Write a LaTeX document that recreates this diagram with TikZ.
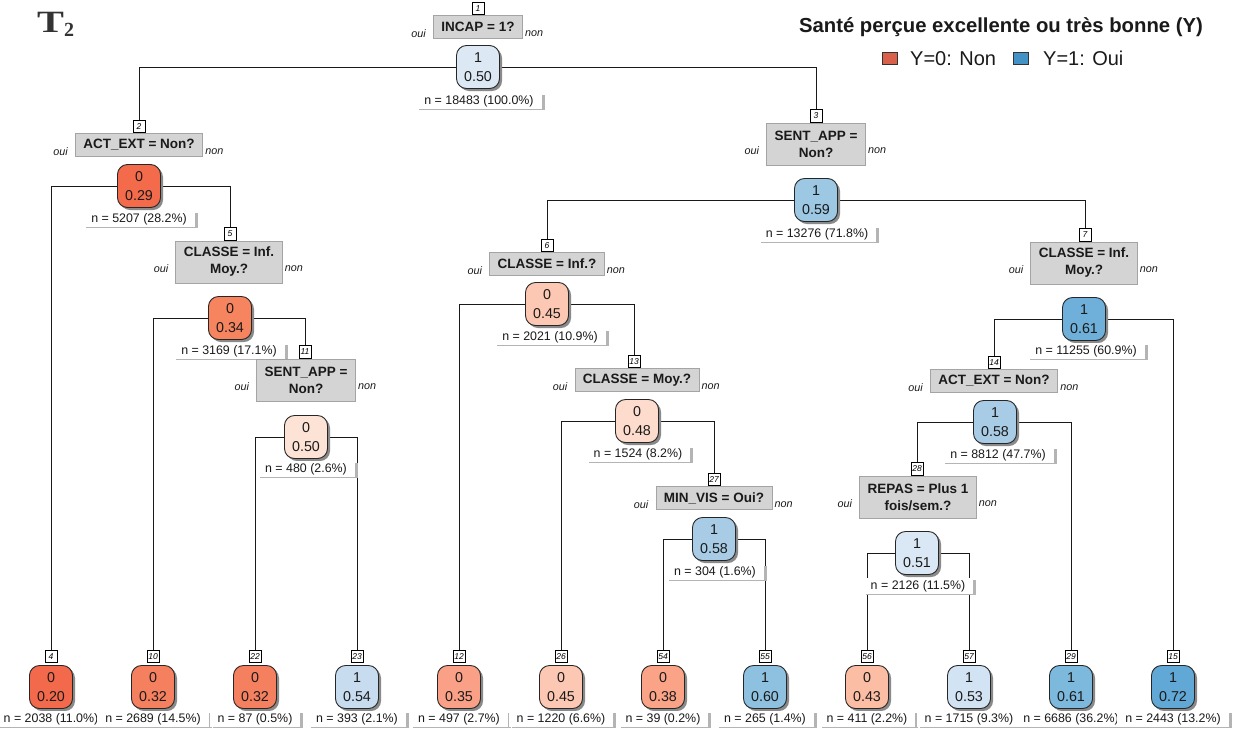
\documentclass[tikz,border=0pt]{standalone}
\usepackage{fontspec}
\setmainfont{Liberation Sans}
\newfontfamily\serifT{Liberation Serif}
\usetikzlibrary{shadows}
\pgfdeclarelayer{bg}
\pgfdeclarelayer{paper}
\pgfsetlayers{paper,bg,main}
\definecolor{txt}{HTML}{1A1A1A}
\definecolor{splitfill}{HTML}{D4D4D4}
\definecolor{splitborder}{HTML}{A4A4A4}
\definecolor{shadowc}{HTML}{8A8A8A}
\definecolor{labshadow}{HTML}{B4B4B4}
\definecolor{c020}{HTML}{F26A4B}
\definecolor{c029}{HTML}{F36B4B}
\definecolor{c032}{HTML}{F5805F}
\definecolor{c034}{HTML}{F6845F}
\definecolor{c035}{HTML}{F9A086}
\definecolor{c038}{HTML}{FAA387}
\definecolor{c043}{HTML}{FCBDA5}
\definecolor{c045}{HTML}{FDC8B3}
\definecolor{c048}{HTML}{FDDCCD}
\definecolor{c050r}{HTML}{FDE3D6}
\definecolor{c050b}{HTML}{DCE9F5}
\definecolor{c051}{HTML}{DAE8F5}
\definecolor{c053}{HTML}{D2E3F3}
\definecolor{c054}{HTML}{C8DCEF}
\definecolor{c058}{HTML}{A8CCE5}
\definecolor{c059}{HTML}{9DC8E3}
\definecolor{c060}{HTML}{8EC0E0}
\definecolor{c061}{HTML}{7DB8DD}
\definecolor{c061n}{HTML}{6FB0DA}
\definecolor{c072}{HTML}{62A8D6}
\definecolor{legnon}{HTML}{D9604B}
\definecolor{legoui}{HTML}{4292C6}
\tikzset{
  numbox/.style={draw=black, fill=white, line width=0.8pt, font=\fontsize{8.5}{9}\selectfont\itshape, inner sep=0.8pt, minimum width=12pt, minimum height=12.5pt, text=black},
  split/.style={draw=splitborder, fill=splitfill, line width=0.8pt, font=\fontsize{13.5}{17}\selectfont\bfseries, align=center, inner xsep=8pt, inner ysep=0pt, minimum height=23pt, text=txt},
  splittwo/.style={split, minimum height=42pt},
  cnode/.style={draw=black!85, line width=0.9pt, rounded corners=10pt, minimum width=43pt, minimum height=43pt, inner sep=0pt, align=center, font=\fontsize{14.3}{18.5}\selectfont, text=txt, general shadow={fill=shadowc, shadow xshift=2.5pt, shadow yshift=-2.5pt}},
  nlab/.style={fill=white, font=\fontsize{12.4}{14}\selectfont, inner xsep=8pt, inner ysep=2pt, text height=9pt, text depth=2.5pt, text=txt, general shadow={fill=labshadow, shadow xshift=3pt, shadow yshift=-1.5pt}},
  yn/.style={font=\fontsize{10.8}{12}\selectfont\itshape, text=txt, inner sep=0pt},
  branch/.style={draw=black!90, line width=0.9pt},
  legsq/.style={draw=black!80, line width=0.8pt, minimum width=15pt, minimum height=12pt, inner sep=0pt},
  legtxt/.style={font=\fontsize{20}{24}\selectfont, text=txt, inner sep=0pt, anchor=base west}
}
% #1 id, #2 style, #3 x, #4 y, #5 text, #6 xshift of number box
\newcommand{\splitnode}[6]{%
  \node[#2] (s#1) at (#3,#4) {#5};
  \node[numbox, anchor=south] (b#1) at ([xshift=#6]s#1.north) {#1};
  \node[yn, anchor=east] (oui#1) at ([xshift=-7pt,yshift=-7pt]s#1.west) {oui};
  \node[yn, anchor=west] (non#1) at ([xshift=2pt,yshift=-7pt]s#1.east) {non};
}
% #1 id, #2 x, #3 colour, #4 class, #5 prob, #6 n label
\newcommand{\leafnode}[6]{%
  \node[cnode, fill=#3] (c#1) at (#2,687) {#4\\#5};
  \node[numbox, anchor=south] (b#1) at ([yshift=2pt]c#1.north) {#1};
  \node[nlab] (n#1) at (#2,719) {#6};
}
\begin{document}
\begin{tikzpicture}[x=1pt,y=-1pt]
\begin{pgfonlayer}{paper}
\fill[white] (0,0) rectangle (1239,729);
\end{pgfonlayer}
\useasboundingbox (0,0) rectangle (1239,729);

% title mark
\node[anchor=base west, inner sep=0pt, text=black!80] (tmark) at (37,32)
  {\serifT\bfseries\fontsize{31}{31}\selectfont\scalebox{1.3}[1]{T}\raisebox{-4pt}{\fontsize{20}{20}\selectfont 2}};

% legend
\node[font=\fontsize{20.3}{24}\selectfont\bfseries, text=txt, anchor=base, inner sep=0pt] (ltitle) at (1001,32) {Santé perçue excellente ou très bonne (Y)};
\node[legsq, fill=legnon] (sq0) at (889.5,58) {};
\node[legtxt] (lt0) at (910,65.5) {Y=0: Non};
\node[legsq, fill=legoui] (sq1) at (1020.5,58) {};
\node[legtxt] (lt1) at (1043,65.5) {Y=1: Oui};

% node 1
\splitnode{1}{split}{478}{27}{INCAP = 1?}{0pt}
\node[cnode, fill=c050b] (c1) at (478,67) {1\\0.50};
\node[nlab] (n1) at (479,101) {n = 18483 (100.0\%)};

% node 2
\splitnode{2}{split}{139}{145}{ACT\_EXT = Non?}{0pt}
\node[cnode, fill=c029] (c2) at (139,186) {0\\0.29};
\node[nlab] (n2) at (139,219) {n = 5207 (28.2\%)};

% node 5
\splitnode{5}{splittwo}{229}{262}{CLASSE = Inf.\\Moy.?}{1pt}
\node[cnode, fill=c034] (c5) at (230,318) {0\\0.34};
\node[nlab] (n5) at (229,351) {n = 3169 (17.1\%)};

% node 11
\splitnode{11}{splittwo}{306}{380}{SENT\_APP =\\Non?}{-1pt}
\node[cnode, fill=c050r] (c11) at (306,437) {0\\0.50};
\node[nlab] (n11) at (306,469) {n = 480 (2.6\%)};

% node 3
\splitnode{3}{splittwo}{816}{144}{SENT\_APP =\\Non?}{0pt}
\node[cnode, fill=c059] (c3) at (816,200) {1\\0.59};
\node[nlab] (n3) at (817,234) {n = 13276 (71.8\%)};

% node 6
\splitnode{6}{split}{547}{264}{CLASSE = Inf.?}{0pt}
\node[cnode, fill=c045] (c6) at (547,304) {0\\0.45};
\node[nlab] (n6) at (550,337) {n = 2021 (10.9\%)};

% node 13
\splitnode{13}{split}{637}{380}{CLASSE = Moy.?}{-3pt}
\node[cnode, fill=c048] (c13) at (637,421) {0\\0.48};
\node[nlab] (n13) at (638,454) {n = 1524 (8.2\%)};

% node 27
\splitnode{27}{split}{714}{498}{MIN\_VIS = Oui?}{0pt}
\node[cnode, fill=c058] (c27) at (714,539) {1\\0.58};
\node[nlab] (n27) at (715,572) {n = 304 (1.6\%)};

% node 7
\splitnode{7}{splittwo}{1084}{263}{CLASSE = Inf.\\Moy.?}{1pt}
\node[cnode, fill=c061n] (c7) at (1084,319) {1\\0.61};
\node[nlab] (n7) at (1086,351) {n = 11255 (60.9\%)};

% node 14
\splitnode{14}{split}{994}{381}{ACT\_EXT = Non?}{0pt}
\node[cnode, fill=c058] (c14) at (995,422) {1\\0.58};
\node[nlab] (n14) at (998,455) {n = 8812 (47.7\%)};

% node 28
\splitnode{28}{splittwo}{918}{497}{REPAS = Plus 1\\fois/sem.?}{-1pt}
\node[cnode, fill=c051] (c28) at (917,553) {1\\0.51};
\node[nlab] (n28) at (918,586) {n = 2126 (11.5\%)};

% leaves
\leafnode{4}{51}{c020}{0}{0.20}{n = 2038 (11.0\%)}
\leafnode{10}{153}{c032}{0}{0.32}{n = 2689 (14.5\%)}
\leafnode{22}{255}{c032}{0}{0.32}{n = 87 (0.5\%)}
\leafnode{23}{357}{c054}{1}{0.54}{n = 393 (2.1\%)}
\leafnode{12}{459}{c035}{0}{0.35}{n = 497 (2.7\%)}
\leafnode{26}{561}{c045}{0}{0.45}{n = 1220 (6.6\%)}
\leafnode{54}{663}{c038}{0}{0.38}{n = 39 (0.2\%)}
\leafnode{55}{765}{c060}{1}{0.60}{n = 265 (1.4\%)}
\leafnode{56}{867}{c043}{0}{0.43}{n = 411 (2.2\%)}
\leafnode{57}{969}{c053}{1}{0.53}{n = 1715 (9.3\%)}
\leafnode{29}{1071}{c061}{1}{0.61}{n = 6686 (36.2\%)}
\leafnode{15}{1173}{c072}{1}{0.72}{n = 2443 (13.2\%)}

% branches
\begin{pgfonlayer}{bg}
\draw[branch] (c1.west) -| (b2.north);
\draw[branch] (c1.east) -| (b3.north);
\draw[branch] (c2.west) -| (b4.north);
\draw[branch] (c2.east) -| (b5.north);
\draw[branch] (c5.west) -| (b10.north);
\draw[branch] (c5.east) -| (b11.north);
\draw[branch] (c11.west) -| (b22.north);
\draw[branch] (c11.east) -| (b23.north);
\draw[branch] (c3.west) -| (b6.north);
\draw[branch] (c3.east) -| (b7.north);
\draw[branch] (c6.west) -| (b12.north);
\draw[branch] (c6.east) -| (b13.north);
\draw[branch] (c13.west) -| (b26.north);
\draw[branch] (c13.east) -| (b27.north);
\draw[branch] (c27.west) -| (b54.north);
\draw[branch] (c27.east) -| (b55.north);
\draw[branch] (c7.west) -| (b14.north);
\draw[branch] (c7.east) -| (b15.north);
\draw[branch] (c14.west) -| (b28.north);
\draw[branch] (c14.east) -| (b29.north);
\draw[branch] (c28.west) -| (b56.north);
\draw[branch] (c28.east) -| (b57.north);
\end{pgfonlayer}
\end{tikzpicture}
\end{document}
